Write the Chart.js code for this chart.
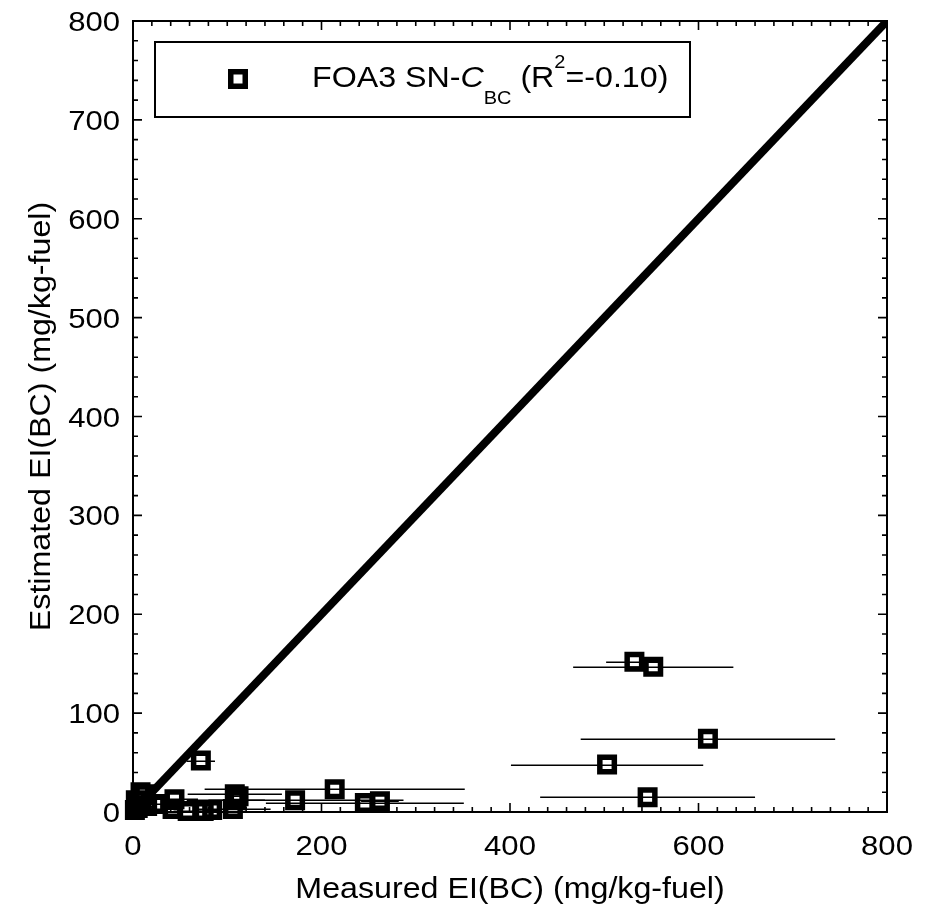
<!DOCTYPE html>
<html>
<head>
<meta charset="utf-8">
<script src="https://cdn.jsdelivr.net/npm/chart.js@4.4.1/dist/chart.umd.min.js"></script>
<style>
  html, body { margin: 0; padding: 0; background: #fff; }
  #wrap { width: 928px; height: 904px; position: relative; }
</style>
</head>
<body>
<div id="wrap"><canvas id="chart"></canvas></div>
<script>
// Measured vs. estimated black-carbon emission index, FOA3 smoke-number method
const measured    = [532, 552, 610, 503, 546, 72, 214, 172, 246, 262, 108, 110, 106, 112, 2, 5, 8, 12, 3, 15, 44, 42, 58, 75, 84, 24];
const estimated   = [152, 147, 74, 48, 15, 52, 23, 12, 9, 11, 18, 12, 3, 16, 2, 4, 20, 18, 12, 6, 13, 3, 1, 1, 2, 8];
const measuredErr = [30, 85, 135, 102, 114, 15, 138, 115, 105, 20, 50, 30, 40, 10, 5, 8, 10, 12, 5, 10, 25, 10, 15, 12, 10, 20];

const oneToOne = [{ x: 0, y: 0 }, { x: 800, y: 800 }];

const xTickLabels = [0, 200, 400, 600, 800];
const yTickLabels = [0, 100, 200, 300, 400, 500, 600, 700, 800];

const xTitle = 'Measured EI(BC) (mg/kg-fuel)';
const yTitle = 'Estimated EI(BC) (mg/kg-fuel)';

const FONT = '"Liberation Sans", Arial, Helvetica, sans-serif';
const STRETCH = 1.11;

function wideText(ctx, text, x, y, size, align, style) {
  ctx.save();
  ctx.translate(x, y);
  ctx.scale(STRETCH, 1);
  ctx.font = (style ? style + ' ' : '') + size + 'px ' + FONT;
  ctx.textAlign = align;
  ctx.textBaseline = 'alphabetic';
  ctx.fillStyle = '#000';
  ctx.fillText(text, 0, 0);
  const w = ctx.measureText(text).width * STRETCH;
  ctx.restore();
  return w;
}

// horizontal error bars on the measured values
const errorBars = {
  id: 'errorBars',
  beforeDatasetsDraw(chart) {
    const { ctx, scales: { x, y } } = chart;
    ctx.save();
    ctx.strokeStyle = '#000';
    ctx.lineWidth = 1.5;
    measured.forEach((m, i) => {
      const py = Math.round(y.getPixelForValue(estimated[i])) + 0.25;
      ctx.beginPath();
      ctx.moveTo(x.getPixelForValue(m - measuredErr[i]), py);
      ctx.lineTo(x.getPixelForValue(m + measuredErr[i]), py);
      ctx.stroke();
    });
    ctx.restore();
  }
};

// boxed frame with inward ticks on all four sides, labels and titles
const frame = {
  id: 'frame',
  afterDraw(chart) {
    const { ctx, chartArea: a, scales: { x, y } } = chart;
    ctx.save();
    ctx.strokeStyle = '#000';
    ctx.lineWidth = 1.6;
    for (let v = 0; v <= 800; v += 20) {
      const major = v % 200 === 0;
      const len = major ? 9 : 5;
      const px = x.getPixelForValue(v);
      ctx.beginPath();
      ctx.moveTo(px, a.bottom); ctx.lineTo(px, a.bottom - len);
      ctx.moveTo(px, a.top); ctx.lineTo(px, a.top + len);
      ctx.stroke();
    }
    for (let v = 0; v <= 800; v += 20) {
      const major = v % 100 === 0;
      const len = major ? 9 : 5;
      const py = y.getPixelForValue(v);
      ctx.beginPath();
      ctx.moveTo(a.left, py); ctx.lineTo(a.left + len, py);
      ctx.moveTo(a.right, py); ctx.lineTo(a.right - len, py);
      ctx.stroke();
    }
    ctx.lineWidth = 2;
    ctx.strokeRect(a.left, a.top, a.right - a.left, a.bottom - a.top);
    ctx.restore();

    xTickLabels.forEach(v => wideText(ctx, String(v), x.getPixelForValue(v), 855, 28, 'center'));
    yTickLabels.forEach(v => wideText(ctx, String(v), 120, y.getPixelForValue(v) + 10, 28, 'right'));

    wideText(ctx, xTitle, (a.left + a.right) / 2, 898, 29, 'center');
    ctx.save();
    ctx.translate(50, (a.top + a.bottom) / 2);
    ctx.rotate(-Math.PI / 2);
    wideText(ctx, yTitle, 0, 0, 29, 'center');
    ctx.restore();

    // legend box
    ctx.save();
    ctx.strokeStyle = '#000';
    ctx.lineWidth = 2;
    ctx.strokeRect(155, 42, 535, 75);
    ctx.lineWidth = 5.5;
    ctx.strokeRect(238 - 7.25, 79 - 7.25, 14.5, 14.5);
    ctx.restore();
    let tx = 312;
    const base = 87;
    tx += wideText(ctx, 'FOA3 SN-', tx, base, 29, 'left');
    tx += wideText(ctx, 'C', tx, base, 29, 'left', 'italic');
    tx += wideText(ctx, 'BC', tx, base + 17, 18, 'left');
    tx += wideText(ctx, ' (R', tx, base, 29, 'left');
    tx += wideText(ctx, '2', tx, base - 19, 18, 'left');
    wideText(ctx, '=-0.10)', tx, base, 29, 'left');
  }
};

new Chart(document.getElementById('chart'), {
  type: 'scatter',
  data: {
    datasets: [
      {
        label: '1:1',
        type: 'line',
        data: oneToOne,
        borderColor: '#000',
        borderWidth: 8,
        pointRadius: 0,
        fill: false,
        clip: 0,
        order: 2
      },
      {
        label: 'FOA3 SN-C_BC',
        data: measured.map((m, i) => ({ x: m, y: estimated[i] })),
        pointStyle: 'rect',
        pointRadius: 10.25,
        borderWidth: 5.5,
        borderColor: '#000',
        backgroundColor: 'rgba(0,0,0,0)',
        clip: false,
        order: 1
      }
    ]
  },
  options: {
    responsive: true,
    maintainAspectRatio: false,
    animation: false,
    events: [],
    devicePixelRatio: 1,
    layout: { padding: { left: 133, top: 21, right: 41, bottom: 92 } },
    scales: {
      x: { type: 'linear', min: 0, max: 800, display: false },
      y: { type: 'linear', min: 0, max: 800, display: false }
    },
    plugins: { legend: { display: false }, tooltip: { enabled: false } }
  },
  plugins: [errorBars, frame]
});
</script>
</body>
</html>
